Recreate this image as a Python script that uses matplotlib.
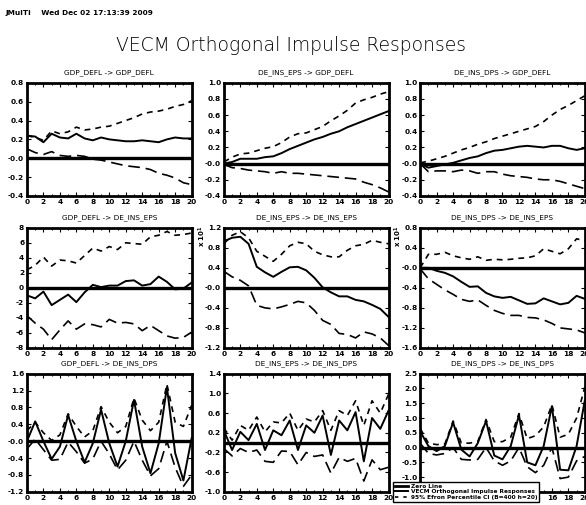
import numpy as np
import matplotlib.pyplot as plt
from matplotlib.lines import Line2D
from matplotlib.ticker import MultipleLocator

plt.rcParams['font.family'] = 'DejaVu Sans'
plt.rcParams['font.weight'] = 'bold'

steps = np.arange(21)

titles = [
    "GDP_DEFL -> GDP_DEFL", "DE_INS_EPS -> GDP_DEFL", "DE_INS_DPS -> GDP_DEFL",
    "GDP_DEFL -> DE_INS_EPS", "DE_INS_EPS -> DE_INS_EPS", "DE_INS_DPS -> DE_INS_EPS",
    "GDP_DEFL -> DE_INS_DPS", "DE_INS_EPS -> DE_INS_DPS", "DE_INS_DPS -> DE_INS_DPS",
]

# impulse responses (solid) and 95% percentile bands (dashed), h = 0..20
irf_1 = [0.24, 0.23, 0.17, 0.26, 0.22, 0.21, 0.26, 0.21, 0.19, 0.22, 0.20,
         0.19, 0.18, 0.18, 0.19, 0.18, 0.17, 0.20, 0.22, 0.21, 0.21]
up_1 = [0.24, 0.22, 0.19, 0.29, 0.26, 0.28, 0.33, 0.30, 0.31, 0.33, 0.34,
        0.37, 0.40, 0.43, 0.47, 0.49, 0.50, 0.52, 0.55, 0.57, 0.61]
lo_1 = [0.10, 0.06, 0.04, 0.07, 0.03, 0.02, 0.03, 0.02, -0.01, -0.02, -0.04,
        -0.06, -0.08, -0.09, -0.10, -0.12, -0.16, -0.18, -0.21, -0.26, -0.28]

irf_2 = [0.00, 0.02, 0.06, 0.06, 0.06, 0.08, 0.09, 0.13, 0.18, 0.22, 0.26,
         0.30, 0.33, 0.37, 0.40, 0.45, 0.49, 0.53, 0.57, 0.61, 0.65]
up_2 = [0.02, 0.08, 0.12, 0.13, 0.16, 0.19, 0.21, 0.26, 0.33, 0.37, 0.38,
        0.42, 0.46, 0.53, 0.59, 0.66, 0.75, 0.79, 0.82, 0.86, 0.89]
lo_2 = [-0.01, -0.05, -0.06, -0.08, -0.09, -0.10, -0.12, -0.10, -0.12, -0.12, -0.13,
        -0.14, -0.15, -0.16, -0.17, -0.18, -0.19, -0.23, -0.26, -0.30, -0.35]

irf_3 = [0.00, -0.05, -0.03, -0.01, 0.01, 0.04, 0.07, 0.09, 0.13, 0.16, 0.17,
         0.19, 0.21, 0.22, 0.21, 0.20, 0.22, 0.22, 0.19, 0.17, 0.19]
up_3 = [0.01, 0.03, 0.06, 0.09, 0.13, 0.17, 0.20, 0.24, 0.27, 0.31, 0.34,
        0.37, 0.40, 0.43, 0.46, 0.52, 0.60, 0.67, 0.72, 0.78, 0.84]
lo_3 = [0.00, -0.10, -0.09, -0.09, -0.10, -0.08, -0.09, -0.12, -0.10, -0.10, -0.13,
        -0.15, -0.16, -0.17, -0.19, -0.20, -0.20, -0.22, -0.25, -0.28, -0.31]

irf_4 = [-1.0, -1.4, -0.5, -2.3, -1.6, -0.9, -1.9, -0.6, 0.4, 0.1, 0.3,
         0.3, 0.9, 1.0, 0.3, 0.5, 1.5, 0.8, -0.2, -0.1, 0.7]
up_4 = [2.4, 3.0, 4.1, 2.9, 3.7, 3.6, 3.3, 4.3, 5.3, 4.9, 5.5,
        5.1, 6.0, 5.9, 5.8, 6.8, 7.0, 7.5, 7.0, 7.1, 7.3]
lo_4 = [-3.7, -4.7, -5.5, -6.9, -5.6, -4.4, -5.5, -4.8, -4.9, -5.2, -4.2,
        -4.7, -4.6, -4.8, -5.7, -5.0, -5.7, -6.4, -6.7, -6.6, -5.9]

irf_5 = [0.93, 1.00, 1.02, 0.88, 0.42, 0.31, 0.22, 0.32, 0.41, 0.42, 0.35,
         0.20, 0.01, -0.09, -0.17, -0.17, -0.24, -0.27, -0.34, -0.42, -0.58]
up_5 = [0.88, 1.05, 1.12, 1.00, 0.73, 0.63, 0.53, 0.67, 0.84, 0.91, 0.88,
        0.73, 0.66, 0.62, 0.62, 0.75, 0.84, 0.87, 0.95, 0.91, 0.88]
lo_5 = [0.33, 0.22, 0.15, 0.04, -0.35, -0.40, -0.42, -0.38, -0.33, -0.27, -0.30,
        -0.45, -0.65, -0.73, -0.91, -0.93, -1.00, -0.88, -0.92, -1.00, -1.15]

irf_6 = [0.00, 0.00, -0.06, -0.10, -0.17, -0.28, -0.38, -0.37, -0.50, -0.57, -0.60,
         -0.58, -0.65, -0.72, -0.71, -0.61, -0.67, -0.73, -0.70, -0.56, -0.62]
up_6 = [0.00, 0.27, 0.27, 0.31, 0.24, 0.20, 0.17, 0.22, 0.15, 0.17, 0.16,
        0.17, 0.19, 0.20, 0.24, 0.38, 0.33, 0.28, 0.38, 0.58, 0.54]
lo_6 = [-0.02, -0.22, -0.33, -0.44, -0.53, -0.63, -0.67, -0.64, -0.75, -0.85, -0.91,
        -0.95, -0.95, -0.99, -1.00, -1.04, -1.11, -1.20, -1.22, -1.24, -1.30]

irf_7 = [0.00, 0.47, 0.00, -0.42, -0.13, 0.62, 0.00, -0.50, -0.05, 0.75, -0.05,
         -0.60, 0.00, 0.98, -0.13, -0.76, -0.05, 1.28, -0.28, -0.93, 0.07]
up_7 = [0.25, 0.45, 0.20, 0.02, 0.15, 0.65, 0.35, 0.10, 0.25, 0.82, 0.45,
        0.20, 0.35, 1.02, 0.50, 0.25, 0.45, 1.35, 0.45, 0.35, 0.85]
lo_7 = [-0.18, 0.05, -0.20, -0.45, -0.43, -0.02, -0.25, -0.52, -0.42, 0.00, -0.30,
        -0.68, -0.45, 0.00, -0.45, -0.82, -0.65, 0.00, -0.62, -1.07, -0.80]

irf_8 = [0.25, -0.15, 0.22, 0.05, 0.38, -0.15, 0.25, 0.15, 0.45, -0.15, 0.35,
         0.20, 0.55, -0.25, 0.45, 0.25, 0.62, -0.38, 0.50, 0.28, 0.65]
up_8 = [0.30, 0.05, 0.35, 0.25, 0.52, 0.22, 0.42, 0.40, 0.60, 0.25, 0.48,
        0.42, 0.65, 0.25, 0.65, 0.55, 0.85, 0.35, 0.85, 0.60, 0.98]
lo_8 = [-0.12, -0.27, -0.12, -0.20, -0.15, -0.38, -0.40, -0.17, -0.18, -0.45, -0.20,
        -0.28, -0.25, -0.62, -0.30, -0.38, -0.32, -0.78, -0.35, -0.55, -0.50]

irf_9 = [0.55, 0.05, -0.12, 0.05, 0.85, -0.07, -0.30, 0.15, 0.90, -0.27, -0.40,
         0.05, 1.10, -0.50, -0.60, 0.05, 1.40, -0.75, -0.77, 0.05, 1.60]
up_9 = [0.65, 0.15, 0.10, 0.12, 0.90, 0.15, 0.15, 0.20, 0.95, 0.20, 0.20,
        0.35, 1.15, 0.30, 0.40, 0.70, 1.45, 0.35, 0.45, 1.00, 2.05]
lo_9 = [0.15, -0.20, -0.25, -0.20, 0.00, -0.40, -0.42, -0.40, 0.00, -0.45, -0.60,
        -0.45, 0.00, -0.65, -0.85, -0.60, 0.00, -1.05, -1.00, -0.45, -0.30]

irfs = [irf_1, irf_2, irf_3, irf_4, irf_5, irf_6, irf_7, irf_8, irf_9]
uppers = [up_1, up_2, up_3, up_4, up_5, up_6, up_7, up_8, up_9]
lowers = [lo_1, lo_2, lo_3, lo_4, lo_5, lo_6, lo_7, lo_8, lo_9]

ylims = [(-0.4, 0.8), (-0.4, 1.0), (-0.4, 1.0),
         (-8, 8), (-1.2, 1.2), (-1.6, 0.8),
         (-1.2, 1.6), (-1.0, 1.4), (-1.5, 2.5)]
yticks = [
    [-0.4, -0.2, 0.0, 0.2, 0.4, 0.6, 0.8],
    [-0.4, -0.2, 0.0, 0.2, 0.4, 0.6, 0.8, 1.0],
    [-0.4, -0.2, 0.0, 0.2, 0.4, 0.6, 0.8, 1.0],
    [-8, -6, -4, -2, 0, 2, 4, 6, 8],
    [-1.2, -0.8, -0.4, 0.0, 0.4, 0.8, 1.2],
    [-1.6, -1.2, -0.8, -0.4, 0.0, 0.4, 0.8],
    [-1.2, -0.8, -0.4, 0.0, 0.4, 0.8, 1.2, 1.6],
    [-1.0, -0.6, -0.2, 0.2, 0.6, 1.0, 1.4],
    [-1.5, -1.0, -0.5, 0.0, 0.5, 1.0, 1.5, 2.0, 2.5],
]
ytick_labels = [
    ["-0.4", "-0.2", "-0.0", "0.2", "0.4", "0.6", "0.8"],
    ["-0.4", "-0.2", "-0.0", "0.2", "0.4", "0.6", "0.8", "1.0"],
    ["-0.4", "-0.2", "-0.0", "0.2", "0.4", "0.6", "0.8", "1.0"],
    ["-8", "-6", "-4", "-2", "0", "2", "4", "6", "8"],
    ["-1.2", "-0.8", "-0.4", "-0.0", "0.4", "0.8", "1.2"],
    ["-1.6", "-1.2", "-0.8", "-0.4", "-0.0", "0.4", "0.8"],
    ["-1.2", "-0.8", "-0.4", "-0.0", "0.4", "0.8", "1.2", "1.6"],
    ["-1.0", "-0.6", "-0.2", "0.2", "0.6", "1.0", "1.4"],
    ["-1.5", "-1.0", "-0.5", "0.0", "0.5", "1.0", "1.5", "2.0", "2.5"],
]
scaled = [False, False, False, False, True, True, False, False, False]

fig = plt.figure(figsize=(5.86, 5.05), dpi=100)

col_left = [0.046, 0.382, 0.717]
col_width = 0.281
row_bottom = [0.612, 0.311, 0.026]
row_height = [0.224, 0.238, 0.234]

upper_ls = (0, (3.5, 3))
lower_ls = (0, (7, 3.5))

for k in range(9):
    r, c = divmod(k, 3)
    ax = fig.add_axes([col_left[c], row_bottom[r], col_width, row_height[r]])
    ax.axhline(0, color='k', lw=2.4, zorder=1)
    ax.plot(steps, irfs[k], color='k', lw=1.4, zorder=3)
    ax.plot(steps, uppers[k], color='k', lw=1.2, ls=upper_ls, zorder=2)
    ax.plot(steps, lowers[k], color='k', lw=1.2, ls=lower_ls, zorder=2)
    ax.set_xlim(0, 20)
    ax.set_ylim(*ylims[k])
    ax.set_xticks(range(0, 21, 2))
    ax.xaxis.set_minor_locator(MultipleLocator(1))
    ax.set_yticks(yticks[k])
    ax.set_yticklabels(ytick_labels[k])
    ax.tick_params(which='both', direction='in', top=True, right=True,
                   labelsize=5.3, width=0.8, pad=2)
    ax.tick_params(which='major', length=3)
    ax.tick_params(which='minor', length=1.5)
    for s in ax.spines.values():
        s.set_linewidth(2)
    ax.set_title(titles[k], fontsize=5.3, pad=6)
    if scaled[k]:
        ax.text(-0.13, 0.93, r"x 10$^1$", transform=ax.transAxes, rotation=90,
                fontsize=5, ha='center', va='center')

fig.text(0.01, 0.975, "JMulTi    Wed Dec 02 17:13:39 2009", fontsize=5.3,
         ha='left', va='center')
fig.text(0.497, 0.91, "VECM Orthogonal Impulse Responses", fontsize=13.5,
         fontweight=200, ha='center', va='center')

handles = [Line2D([], [], color='k', lw=2),
           Line2D([], [], color='k', lw=1.4),
           Line2D([], [], color='k', lw=1.2, ls=(0, (2, 3)))]
labels = ["Zero Line", "VECM Orthogonal Impulse Responses",
          "95% Efron Percentile CI (B=400 h=20)"]
leg = fig.legend(handles, labels, loc='upper left',
                 bbox_to_anchor=(393 / 586, 1 - 482 / 505), fontsize=4.2,
                 frameon=True, fancybox=False, edgecolor='k', framealpha=1,
                 borderpad=0.3, labelspacing=0.1, handlelength=2.2,
                 handletextpad=0.6, borderaxespad=0)
leg.get_frame().set_linewidth(1)

fig.savefig("out.png", dpi=100)
